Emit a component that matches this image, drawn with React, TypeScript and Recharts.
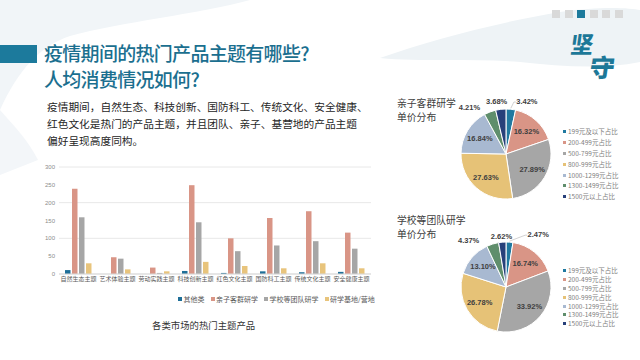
import React from 'react';
import { BarChart, Bar, XAxis, YAxis, CartesianGrid, PieChart, Pie, Cell } from 'recharts';

// bar chart: hot themes by market
const themes = ['自然生态主题', '艺术体验主题', '劳动实践主题', '科技创新主题', '红色文化主题', '国防科工主题', '传统文化主题', '安全健康主题'];
const otherValues = [11, 0, 0, 8.5, 3, 7.5, 5, 6];
const familyValues = [239, 47, 18, 249, 100, 157, 176, 116];
const schoolValues = [159, 43, 3, 145, 64, 80, 92, 71];
const baseValues = [30, 13, 7.5, 34, 22.5, 16, 30, 16];
const seriesNames = ['其他类', '亲子客群研学', '学校等团队研学', '研学基地/营地'];
const yTicks = [0, 50, 100, 150, 200, 250, 300];

// pies: unit price distribution (%)
const priceBands = ['199元及以下占比', '200-499元占比', '500-799元占比', '800-999元占比', '1000-1299元占比', '1300-1499元占比', '1500元以上占比'];
const familyShares = [3.42, 16.32, 27.89, 27.63, 16.84, 4.21, 3.68];
const schoolShares = [2.47, 16.74, 33.92, 26.78, 13.10, 4.37, 2.62];

const barColors = ['#1f6f98', '#d99586', '#a6a6a6', '#e8c47c'];
const pieColors = ['#2079a0', '#d99586', '#a6a6a6', '#e6c277', '#a8b9d1', '#5f8e6c', '#27407a'];
const TEAL = '#1b6f8f';
const CJK = '"Noto Sans CJK SC", "Noto Sans", sans-serif';

const barData = themes.map((t, i) => ({
  theme: t,
  other: otherValues[i],
  family: familyValues[i],
  school: schoolValues[i],
  base: baseValues[i],
}));
const barKeys = ['other', 'family', 'school', 'base'];

const toPie = (shares: number[]) => priceBands.map((b, i) => ({ name: b, value: shares[i] }));

const RAD = Math.PI / 180;

// small slices sit outside; nudges keep them from colliding
const makeLabel = (nudges: Record<number, [number, number]>) => (props: any) => {
  const { cx, cy, midAngle, outerRadius, value, index } = props;
  const small = value < 5;
  const r = small ? outerRadius + 10 : outerRadius * 0.68;
  let x = cx + r * Math.cos(-midAngle * RAD);
  let y = cy + r * Math.sin(-midAngle * RAD);
  const n = nudges[index];
  if (small && n) {
    x += n[0];
    y += n[1];
  }
  const ex = cx + outerRadius * Math.cos(-midAngle * RAD);
  const ey = cy + outerRadius * Math.sin(-midAngle * RAD);
  return (
    <g>
      {small && index === 0 && (
        <polyline
          points={`${ex},${ey - 1} ${x - 13},${y + 1} ${x - 11},${y + 1}`}
          fill="none"
          stroke="#bfbfbf"
          strokeWidth={0.7}
        />
      )}
      <text
        x={x}
        y={y}
        textAnchor="middle"
        dominantBaseline="central"
        fontSize={7.5}
        fontWeight={700}
        fontFamily='"Liberation Sans", Arial, sans-serif'
        fill="#404040"
      >
        {value.toFixed(2)}%
      </text>
    </g>
  );
};

const PriceLegend = ({ top, step }: { top: number; step: number }) => (
  <div style={{ position: 'absolute', left: 563, top, fontFamily: CJK, fontSize: 6.5, color: '#808080' }}>
    {priceBands.map((b, i) => (
      <div key={b} style={{ height: step, lineHeight: `${step}px`, display: 'flex', alignItems: 'center', whiteSpace: 'nowrap' }}>
        <span style={{ width: 3, height: 3, background: pieColors[i], marginRight: 2, display: 'inline-block' }} />
        {b}
      </div>
    ))}
  </div>
);

const PriceTitle = ({ top, lines }: { top: number; lines: string[] }) => (
  <div style={{ position: 'absolute', left: 397, top, fontFamily: CJK, fontSize: 9.8, lineHeight: '13.5px', color: '#404040' }}>
    {lines.map((l) => (
      <div key={l}>{l}</div>
    ))}
  </div>
);

const PricePie = ({ top, shares, nudges }: { top: number; shares: number[]; nudges: Record<number, [number, number]> }) => (
  <div style={{ position: 'absolute', left: 380, top }}>
    <PieChart width={260} height={130}>
      <Pie
        data={toPie(shares)}
        dataKey="value"
        cx={121}
        cy={59}
        outerRadius={45}
        startAngle={90}
        endAngle={-270}
        stroke="#ffffff"
        strokeWidth={1}
        label={makeLabel(nudges)}
        labelLine={false}
        isAnimationActive={false}
      >
        {shares.map((_, i) => (
          <Cell key={i} fill={pieColors[i]} />
        ))}
      </Pie>
    </PieChart>
  </div>
);

const App = () => {
  return (
    <div style={{ position: 'absolute', left: 0, top: 0, width: 640, height: 360, background: '#ffffff', overflow: 'hidden', fontFamily: CJK }}>
      {/* faint wash in the background */}
      <svg width={640} height={360} style={{ position: 'absolute', left: 0, top: 0 }}>
        <path d="M0,0 L250,0 C200,14 120,22 70,36 C40,46 18,70 0,110 Z" fill="#f1f5f8" />
        <path d="M0,110 C14,126 28,140 38,160 L0,175 Z" fill="#f3f6f9" />
        <path d="M380,58 C430,40 500,22 560,12 C600,6 630,8 640,10 L640,62 C600,70 560,66 520,62 C470,58 420,62 380,58 Z" fill="#eef3f6" />
      </svg>

      {/* page header */}
      <div style={{ position: 'absolute', left: 0, top: 45, width: 37, height: 18, background: '#1c7a9c' }} />
      <div style={{ position: 'absolute', left: 44, top: 40, fontSize: 19, lineHeight: '26px', fontWeight: 500, color: TEAL, letterSpacing: -0.7 }}>
        <div>疫情期间的热门产品主题有哪些?</div>
        <div>人均消费情况如何?</div>
      </div>
      {[0, 1, 2, 3, 4, 5].map((i) => (
        <div
          key={i}
          style={{ position: 'absolute', left: 552 + i * 12.6, top: 10, width: 8, height: 8, background: i === 2 ? '#1c7a9c' : '#d9d9d9' }}
        />
      ))}
      <div style={{ position: 'absolute', left: 571, top: 26, fontSize: 23, fontWeight: 900, color: '#1d7898', transform: 'skewX(-8deg)' }}>坚</div>
      <div style={{ position: 'absolute', left: 590, top: 48, fontSize: 25, fontWeight: 900, color: '#1d7898', transform: 'skewX(-8deg)' }}>守</div>

      <div style={{ position: 'absolute', left: 47, top: 98, width: 330, fontSize: 10.7, lineHeight: '17px', color: '#262626' }}>
        <div>疫情期间，自然生态、科技创新、国防科工、传统文化、安全健康、</div>
        <div>红色文化是热门的产品主题，并且团队、亲子、基营地的产品主题</div>
        <div>偏好呈现高度同构。</div>
      </div>

      {/* bar chart */}
      <div style={{ position: 'absolute', left: 0, top: 150 }}>
        <BarChart width={380} height={190} data={barData} margin={{ top: 17, right: 9, left: 29, bottom: 50 }} barSize={5.5} barGap={1.5}>
          <CartesianGrid vertical={false} stroke="#e8e8e8" />
          <XAxis
            dataKey="theme"
            height={16}
            interval={0}
            tickLine={false}
            tickSize={2}
            tickMargin={1}
            axisLine={{ stroke: '#d9d9d9' }}
            tick={{ fontSize: 6, fill: '#595959', fontFamily: CJK }}
          />
          <YAxis
            width={30}
            domain={[0, 300]}
            ticks={yTicks}
            axisLine={false}
            tickLine={false}
            tickSize={2}
            tickMargin={2}
            tick={{ fontSize: 6, fill: '#8c8c8c', fontFamily: '"Liberation Sans", sans-serif' }}
          />
          {barKeys.map((k, i) => (
            <Bar key={k} dataKey={k} name={seriesNames[i]} fill={barColors[i]} isAnimationActive={false} />
          ))}
        </BarChart>
      </div>
      <div style={{ position: 'absolute', left: 178, top: 294, display: 'flex', gap: 6, fontSize: 7, lineHeight: '10px', color: '#595959', whiteSpace: 'nowrap' }}>
        {seriesNames.map((n, i) => (
          <span key={n} style={{ display: 'flex', alignItems: 'center' }}>
            <span style={{ width: 4, height: 4, background: barColors[i], marginRight: 1.5, display: 'inline-block' }} />
            {n}
          </span>
        ))}
      </div>
      <div style={{ position: 'absolute', left: 152, top: 318, fontSize: 9.4, color: '#333333' }}>各类市场的热门主题产品</div>

      {/* pies */}
      <PriceTitle top={97} lines={['亲子客群研学', '单价分布']} />
      <PricePie top={90} shares={familyShares} nudges={{ 0: [15, 1.7], 6: [-3, 2], 5: [-17, 5] }} />
      <PriceLegend top={126} step={10.9} />

      <PriceTitle top={214} lines={['学校等团队研学', '单价分布']} />
      <PricePie top={223} shares={schoolShares} nudges={{ 0: [28, 2], 6: [0, 4], 5: [-21, 6] }} />
      <PriceLegend top={266} step={8.9} />
    </div>
  );
};

export default App;
